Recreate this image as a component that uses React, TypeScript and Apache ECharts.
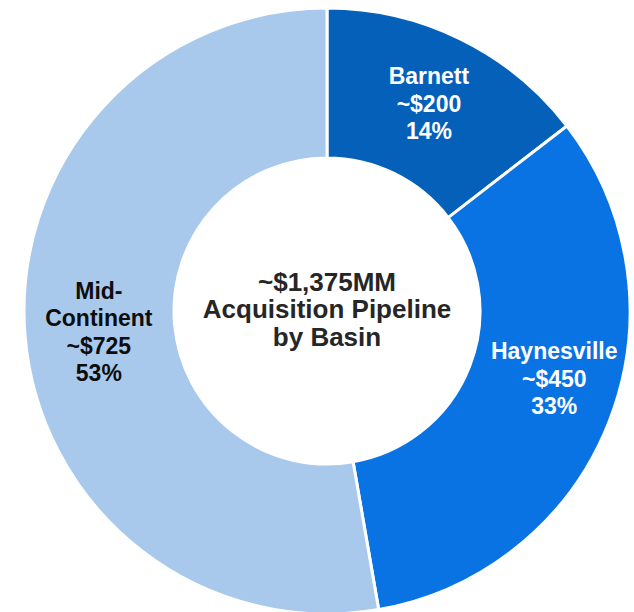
import React, { useEffect, useRef } from "react";
import * as echarts from "echarts";

const basins = ["Barnett", "Haynesville", "Mid-\nContinent"];
const values = [200, 450, 725];
const valueLabels = ["~$200", "~$450", "~$725"];
const pctLabels = ["14%", "33%", "53%"];
const colors = ["#0560BA", "#0A73E3", "#A8C9EC"];
const labelColors = ["#ffffff", "#ffffff", "#0d0d0d"];
const labelOffsets = [[0, 0], [12, -16], [2, 1]];
const centerLines = ["~$1,375MM", "Acquisition Pipeline", "by Basin"];

const FONT = "'Liberation Sans', Arial, Helvetica, sans-serif";

export default function App() {
  const ref = useRef<HTMLDivElement>(null);
  useEffect(() => {
    if (!ref.current) return;
    const chart = echarts.init(ref.current, null, { renderer: "svg" });
    chart.setOption({
      animation: false,
      backgroundColor: "#ffffff",
      graphic: [
        {
          type: "text",
          x: 327,
          y: 309,
          style: {
            text: centerLines.join("\n"),
            fontFamily: FONT,
            fontWeight: "bold",
            fontSize: 26,
            lineHeight: 27.5,
            fill: "#262626",
            align: "center",
            verticalAlign: "middle",
          },
        },
      ],
      series: [
        {
          type: "pie",
          center: [327, 311],
          radius: [153, 303],
          startAngle: 90,
          clockwise: true,
          avoidLabelOverlap: false,
          itemStyle: { borderColor: "#ffffff", borderWidth: 3 },
          label: {
            show: true,
            position: "inside",
            fontFamily: FONT,
            fontWeight: "bold",
            fontSize: 23,
            lineHeight: 27.5,
            align: "center",
          },
          labelLine: { show: false },
          emphasis: { disabled: true },
          data: basins.map((name, i) => ({
            name,
            value: values[i],
            itemStyle: { color: colors[i] },
            label: {
              color: labelColors[i],
              offset: labelOffsets[i],
              formatter: `${name}\n${valueLabels[i]}\n${pctLabels[i]}`,
            },
          })),
        },
      ],
    });
    return () => chart.dispose();
  }, []);
  return (
    <div
      ref={ref}
      style={{ position: "absolute", left: 0, top: 0, width: 634, height: 612 }}
    />
  );
}
